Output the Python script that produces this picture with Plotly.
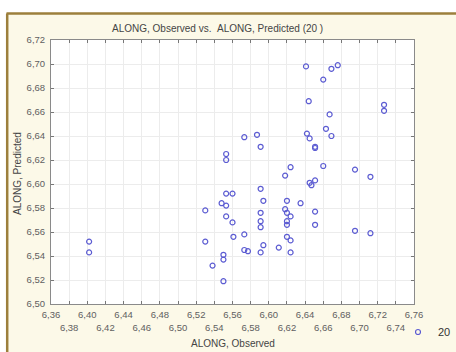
import plotly.graph_objects as go

# ---- data ----
observed = [6.402, 6.402, 6.573, 6.587, 6.591, 6.553, 6.553, 6.553, 6.560, 6.591,
            6.594, 6.548, 6.553, 6.530, 6.553, 6.560, 6.591, 6.591, 6.591, 6.573,
            6.530, 6.561, 6.594, 6.573, 6.577, 6.591, 6.550, 6.550, 6.538, 6.550,
            6.641, 6.669, 6.676, 6.660, 6.644, 6.727, 6.727, 6.667, 6.663, 6.642,
            6.645, 6.669, 6.651, 6.651, 6.624, 6.660, 6.695, 6.618, 6.712, 6.651,
            6.645, 6.647, 6.620, 6.635, 6.618, 6.620, 6.624, 6.651, 6.620, 6.620,
            6.651, 6.695, 6.712, 6.620, 6.624, 6.611, 6.624]
predicted = [6.552, 6.543, 6.639, 6.641, 6.631, 6.625, 6.620, 6.592, 6.592, 6.596,
             6.586, 6.584, 6.582, 6.578, 6.573, 6.568, 6.576, 6.569, 6.564, 6.558,
             6.552, 6.556, 6.549, 6.545, 6.544, 6.543, 6.541, 6.537, 6.532, 6.519,
             6.698, 6.696, 6.699, 6.687, 6.669, 6.666, 6.661, 6.658, 6.646, 6.642,
             6.638, 6.640, 6.630, 6.631, 6.614, 6.615, 6.612, 6.607, 6.606, 6.603,
             6.601, 6.599, 6.586, 6.584, 6.579, 6.576, 6.573, 6.577, 6.569, 6.566,
             6.566, 6.561, 6.559, 6.556, 6.553, 6.547, 6.543]
series_name = "20"

x_tick_vals = [6.36, 6.38, 6.40, 6.42, 6.44, 6.46, 6.48, 6.50, 6.52, 6.54, 6.56,
               6.58, 6.60, 6.62, 6.64, 6.66, 6.68, 6.70, 6.72, 6.74, 6.76]
x_tick_labels = ["6,36", "6,38", "6,40", "6,42", "6,44", "6,46", "6,48", "6,50",
                 "6,52", "6,54", "6,56", "6,58", "6,60", "6,62", "6,64", "6,66",
                 "6,68", "6,70", "6,72", "6,74", "6,76"]

title_text = "ALONG, Observed vs. \u00a0ALONG, Predicted (20 )"
x_title = "ALONG, Observed"
y_title = "ALONG, Predicted"

# ---- layout geometry ----
W, H = 456, 352
L, R, T, B = 51, 42, 40, 48
PW, PH = W - L - R, H - T - B


def px(xp):
    return (xp - L) / PW


def py(yp):
    return (H - B - yp) / PH


# alternate rows for x tick labels
x_text = [lab if i % 2 == 0 else "<br>" + lab for i, lab in enumerate(x_tick_labels)]

fig = go.Figure()
fig.add_trace(go.Scatter(
    x=observed, y=predicted, mode="markers", name=series_name,
    marker=dict(symbol="circle-open", size=5, color="#5c5cd2",
                line=dict(width=1.2, color="#5c5cd2")),
    showlegend=True,
))

axis_common = dict(
    showline=True, linecolor="#8a8a8a", linewidth=1, mirror="ticks",
    ticks="inside", ticklen=3, tickcolor="#777777", tickwidth=1,
    showgrid=True, gridcolor="#ececec", gridwidth=1,
    zeroline=False,
    tickfont=dict(family="Liberation Sans, Arial", size=9.5, color="#606060"),
)

fig.update_xaxes(range=[6.36, 6.76], tickmode="array", tickvals=x_tick_vals,
                 ticktext=x_text, tickangle=0, ticklabelstandoff=2, **axis_common)
fig.update_yaxes(range=[6.50, 6.72], dtick=0.02, tick0=6.50, tickformat=".2f",
                 ticklabelstandoff=3, **axis_common)

cream = "#fcf9e8"
brown = "#9c7f3c"

shapes = [
    # white strip above and left of the cream panel
    dict(type="rect", xref="paper", yref="paper", x0=px(0), x1=px(W), y0=py(13), y1=py(0),
         fillcolor="white", line=dict(width=0), layer="below"),
    dict(type="rect", xref="paper", yref="paper", x0=px(0), x1=px(6.5), y0=py(H), y1=py(0),
         fillcolor="white", line=dict(width=0), layer="below"),
    # brown border lines
    dict(type="line", xref="paper", yref="paper", x0=px(6.5), x1=px(W), y0=py(13.5), y1=py(13.5),
         line=dict(color=brown, width=2.5), layer="below"),
    dict(type="line", xref="paper", yref="paper", x0=px(7.2), x1=px(7.2), y0=py(13.5), y1=py(H),
         line=dict(color=brown, width=2.5), layer="below"),
]

annotations = [
    dict(text=title_text, xref="paper", yref="paper", x=px(217.5), y=py(29),
         xanchor="center", yanchor="middle", showarrow=False,
         font=dict(family="Liberation Sans, Arial", size=10, color="#454545")),
    dict(text=x_title, xref="paper", yref="paper", x=px(232.5), y=py(343),
         xanchor="center", yanchor="middle", showarrow=False,
         font=dict(family="Liberation Sans, Arial", size=10, color="#454545")),
    dict(text=y_title, xref="paper", yref="paper", x=px(17), y=py(174),
         xanchor="center", yanchor="middle", showarrow=False, textangle=-90,
         font=dict(family="Liberation Sans, Arial", size=10, color="#454545")),
]

fig.update_layout(
    width=W, height=H,
    margin=dict(l=L, r=R, t=T, b=B, pad=0, autoexpand=False),
    paper_bgcolor=cream, plot_bgcolor="white",
    separators=", ",
    shapes=shapes, annotations=annotations,
    legend=dict(x=px(398), y=py(332), xanchor="left", yanchor="middle",
                bgcolor="rgba(0,0,0,0)", borderwidth=0,
                font=dict(family="Liberation Sans, Arial", size=11, color="#333333"),
                itemwidth=30),
    showlegend=True,
)

fig.write_html("out.html")
